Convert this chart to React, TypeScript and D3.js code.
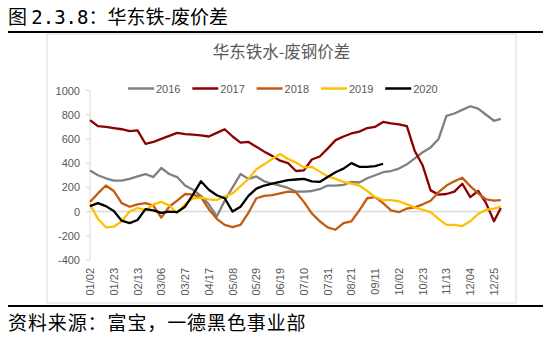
import React from "react";
import * as d3 from "d3";

const dates = [
  "01/02", "01/09", "01/16", "01/23", "01/30", "02/06", "02/13", "02/20", "02/27", "03/06",
  "03/13", "03/20", "03/27", "04/03", "04/10", "04/17", "04/24", "05/01", "05/08", "05/15",
  "05/22", "05/29", "06/05", "06/12", "06/19", "06/26", "07/03", "07/10", "07/17", "07/24",
  "07/31", "08/07", "08/14", "08/21", "08/28", "09/04", "09/11", "09/18", "09/25", "10/02",
  "10/09", "10/16", "10/23", "10/30", "11/06", "11/13", "11/20", "11/27", "12/04", "12/11",
  "12/18", "12/25", "12/31",
];

const xTickLabels = [
  "01/02", "01/23", "02/13", "03/06", "03/27", "04/17", "05/08", "05/29", "06/19",
  "07/10", "07/31", "08/21", "09/11", "10/02", "10/23", "11/13", "12/04", "12/25",
];

const yTickValues = [-400, -200, 0, 200, 400, 600, 800, 1000];

const v2016 = [
  340, 300, 275, 255, 255, 270, 290, 310, 285, 360, 310, 285, 215, 180, 130, 60, -40, 90, 200, 310,
  270, 290, 250, 230, 215, 195, 165, 165, 170, 185, 215, 215, 220, 245, 240, 275, 300, 325, 335, 355,
  390, 440, 490, 530, 600, 790, 810, 840, 870, 850, 800, 750, 765,
];
const v2017 = [
  756, 705, 700, 690, 680, 665, 670, 560, 575, 600, 625, 650, 640, 635, 630, 620, 650, 680, 620, 570,
  575, 535, 495, 460, 420, 400, 335, 340, 430, 455, 520, 590, 620, 645, 660, 690, 700, 740, 728, 720,
  705, 500, 380, 175, 140, 145, 165, 230, 120, 170, 70, -80, 30,
];
const v2018 = [
  80, 150, 215, 170, 70, 40, 60, 70, 50, -50, 40, 90, 145, 140, 120, 20, -60, -110, -128, -110,
  -10, 110, 130, 135, 150, 165, 160, 80, -15, -80, -130, -150, -95, -80, 10, 110, 120, 70, 10, -5,
  25, 35, 60, 90, 160, 215, 250, 280, 210, 150, 100, 90, 95,
];
const v2019 = [
  60, -60, -130, -125, -80, 0, 30, 10, 60, 80, 50, -10, 60, 110, 115, 100, 95, 125, 150, 210,
  270, 350, 390, 435, 475, 435, 405, 365, 370, 330, 290, 270, 245, 230, 215, 170, 120, 95, 95, 85,
  60, 35, 15, -5, -60, -110, -110, -120, -80, -20, 15, 25, 40,
];
const v2020 = [
  45, 70, 45, 5, -75, -95, -70, 20, 10, -10, 0, -5, 40, 140, 250, 180, 135, 110, 0, 40,
  130, 190, 215, 230, 245, 260, 265, 270, 250, 245, 285, 325, 355, 400, 370, 370, 375, 395,
];

const seriesNames = ["2016", "2017", "2018", "2019", "2020"];
const seriesValues = [v2016, v2017, v2018, v2019, v2020];
const seriesColors = ["#808080", "#8b0000", "#c55a11", "#ffc000", "#000000"];

const CJK = "'Noto Sans CJK SC', 'Noto Sans', sans-serif";
const NUM = "'Liberation Sans', Arial, sans-serif";
const MONO = "'DejaVu Sans Mono', 'Liberation Mono', monospace";
const AXIS_GRAY = "#595959";

export default function App() {
  const parse = d3.timeParse("%m/%d");
  const x = d3
    .scaleTime()
    .domain([parse("01/02") as Date, parse("12/25") as Date])
    .range([90, 494]);
  const y = d3.scaleLinear().domain([-400, 1000]).range([260, 90.5]);

  const lineGen = d3
    .line<number>()
    .x((_, i) => x(parse(dates[i]) as Date))
    .y((d) => y(d));

  const plotRight = x(parse("12/31") as Date) + 2;

  return (
    <svg
      width={550}
      height={338}
      style={{ position: "absolute", left: 0, top: 0, display: "block", background: "#fff" }}
    >
      <rect x={0} y={0} width={550} height={338} fill="#fff" />
      {/* Figure title */}
      <text x={8} y={24} fontFamily={CJK} fontSize={19} fill="#000">
        图 <tspan fontFamily={MONO}>2.3.8</tspan>：华东铁-废价差
      </text>
      {/* chart frame */}
      <rect x={47} y={34} width={469} height={269} fill="#fff" stroke="#d9d9d9" strokeWidth={1} />
      <line x1={8} x2={543} y1={32} y2={32} stroke="#000" strokeWidth={2} />
      <line x1={8} x2={543} y1={306} y2={306} stroke="#000" strokeWidth={2} />

      {/* chart title */}
      <text x={281.5} y={58} textAnchor="middle" fontFamily={CJK} fontSize={16.5} fill={AXIS_GRAY}>
        华东铁水-废钢价差
      </text>

      {/* legend */}
      {seriesNames.map((name, i) => {
        const lx = 128 + i * 64.3;
        return (
          <g key={name}>
            <line x1={lx} x2={lx + 26} y1={88.5} y2={88.5} stroke={seriesColors[i]} strokeWidth={2.5} />
            <text x={lx + 28} y={92.5} fontFamily={NUM} fontSize={11} fill={AXIS_GRAY}>
              {name}
            </text>
          </g>
        );
      })}

      {/* y axis */}
      <line x1={90} x2={90} y1={y(1000)} y2={y(-400)} stroke="#d9d9d9" strokeWidth={1} />
      {yTickValues.map((t) => (
        <g key={t}>
          <line x1={86} x2={90} y1={y(t)} y2={y(t)} stroke="#d9d9d9" strokeWidth={1} />
          <text x={80} y={y(t) + 4} textAnchor="end" fontFamily={NUM} fontSize={11} fill={AXIS_GRAY}>
            {t}
          </text>
        </g>
      ))}

      {/* zero line */}
      <line x1={90} x2={plotRight} y1={y(0)} y2={y(0)} stroke="#d9d9d9" strokeWidth={1.5} />

      {/* x labels */}
      {xTickLabels.map((lab) => {
        const px = x(parse(lab) as Date);
        return (
          <text
            key={lab}
            transform={`translate(${px + 4},268) rotate(-90)`}
            textAnchor="end"
            fontFamily={NUM}
            fontSize={11}
            fill={AXIS_GRAY}
          >
            {lab}
          </text>
        );
      })}

      {/* series */}
      {seriesValues.map((vals, i) => (
        <path
          key={seriesNames[i]}
          d={lineGen(vals) || ""}
          fill="none"
          stroke={seriesColors[i]}
          strokeWidth={2.3}
          strokeLinejoin="round"
        />
      ))}

      {/* source */}
      <text x={8} y={330} fontFamily={CJK} fontSize={19} letterSpacing={0.9} fill="#000">
        资料来源：富宝，一德黑色事业部
      </text>
    </svg>
  );
}
